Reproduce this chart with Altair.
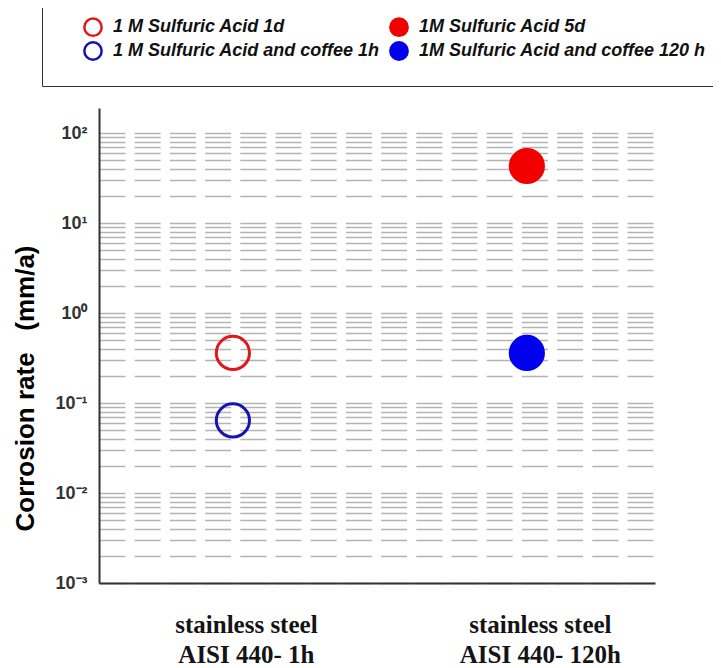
import altair as alt
import pandas as pd

# ---- data ----
samples = ["stainless steel\nAISI 440- 1h", "stainless steel\nAISI 440- 120h"]
# legend is filled column by column: column 1 = open circles, column 2 = filled circles
series = [
    "1 M Sulfuric  Acid 1d",
    "1 M Sulfuric  Acid and coffee 1h",
    "1M Sulfuric  Acid 5d",
    "1M Sulfuric Acid and coffee  120 h",
]
series_sample = [samples[0], samples[0], samples[1], samples[1]]
corrosion_rate = [0.36, 0.064, 43.0, 0.36]

stroke_colors = ["#e3161c", "#1414b4", "#f20000", "#0000ee"]
fill_colors = ["transparent", "transparent", "#f20000", "#0000ee"]

decade_values = [0.001, 0.01, 0.1, 1, 10, 100]
decade_labels = ["10⁻³", "10⁻²", "10⁻¹", "10⁰", "10¹", "10²"]
grid_values = [
    0.001, 0.002, 0.003, 0.004, 0.005, 0.006, 0.007, 0.008, 0.009,
    0.01, 0.02, 0.03, 0.04, 0.05, 0.06, 0.07, 0.08, 0.09,
    0.1, 0.2, 0.3, 0.4, 0.5, 0.6, 0.7, 0.8, 0.9,
    1, 2, 3, 4, 5, 6, 7, 8, 9,
    10, 20, 30, 40, 50, 60, 70, 80, 90,
    100,
]

df = pd.DataFrame({"sample": series_sample, "series": series, "rate": corrosion_rate})

y_label_expr = " : ".join(
    f"datum.value == {v} ? '{l}'" for v, l in zip(decade_values, decade_labels)
) + " : ''"

leg = alt.Legend(
    title=" ",
    orient="none",
    legendX=-57,
    legendY=-101,
    columns=2,
    columnPadding=0,
    rowPadding=-7,
    symbolType="circle",
    symbolSize=300,
    symbolStrokeWidth=2.5,
    labelFont="Liberation Sans",
    labelFontSize=18,
    labelFontWeight="bold",
    labelFontStyle="italic",
    labelColor="#111111",
    labelLimit=420,
    labelOffset=10,
    strokeColor="#333333",
    padding=10,
    titleOrient="left",
    titleFontSize=69,
    titlePadding=31,
)

points = alt.Chart(df).mark_point(shape="circle", size=1100, strokeWidth=3, opacity=1).encode(
    x=alt.X(
        "sample:N",
        sort=samples,
        scale=alt.Scale(type="point", padding=0.4457, align=0.511),
        axis=alt.Axis(
            title=None,
            labelExpr="split(datum.label, '\\n')",
            labelAngle=0,
            labelFont="Liberation Serif",
            labelFontSize=25,
            labelFontWeight="bold",
            labelColor="#141414",
            labelLineHeight=30,
            labelPadding=29,
            labelOffset=13,
            ticks=False,
            tickSize=0,
            grid=False,
            domainColor="#333333",
            domainWidth=2,
        ),
    ),
    y=alt.Y(
        "rate:Q",
        scale=alt.Scale(type="log", domain=[0.001, 189.6], nice=False),
        axis=alt.Axis(
            values=grid_values,
            labelExpr=y_label_expr,
            labelOverlap=False,
            labelFont="Liberation Sans",
            labelFontSize=18,
            labelFontWeight="bold",
            labelColor="#333333",
            labelPadding=12,
            ticks=False,
            tickSize=0,
            domainColor="#333333",
            domainWidth=2,
            grid=True,
            gridColor="#b4b4b4",
            gridDash=[26, 9.2],
            gridWidth=1.3,
            title="Corrosion rate\u00a0\u00a0\u00a0(mm/a)",
            titleFont="Liberation Sans",
            titleFontSize=26,
            titleFontWeight="bold",
            titleColor="#000000",
            titleBaseline="middle",
            titleX=-74,
            titleY=280,
        ),
    ),
    stroke=alt.Stroke("series:N", sort=series, scale=alt.Scale(domain=series, range=stroke_colors), legend=leg),
    fill=alt.Fill("series:N", sort=series, scale=alt.Scale(domain=series, range=fill_colors), legend=leg),
)

chart = points.properties(
    width=556,
    height=475,
    autosize=alt.AutoSizeParams(type="none"),
    padding={"left": 91, "top": 100, "right": 58, "bottom": 84},
).configure(background="white").configure_view(stroke=None)

chart.save("out.html", embed_options={"renderer": "svg", "actions": False})
